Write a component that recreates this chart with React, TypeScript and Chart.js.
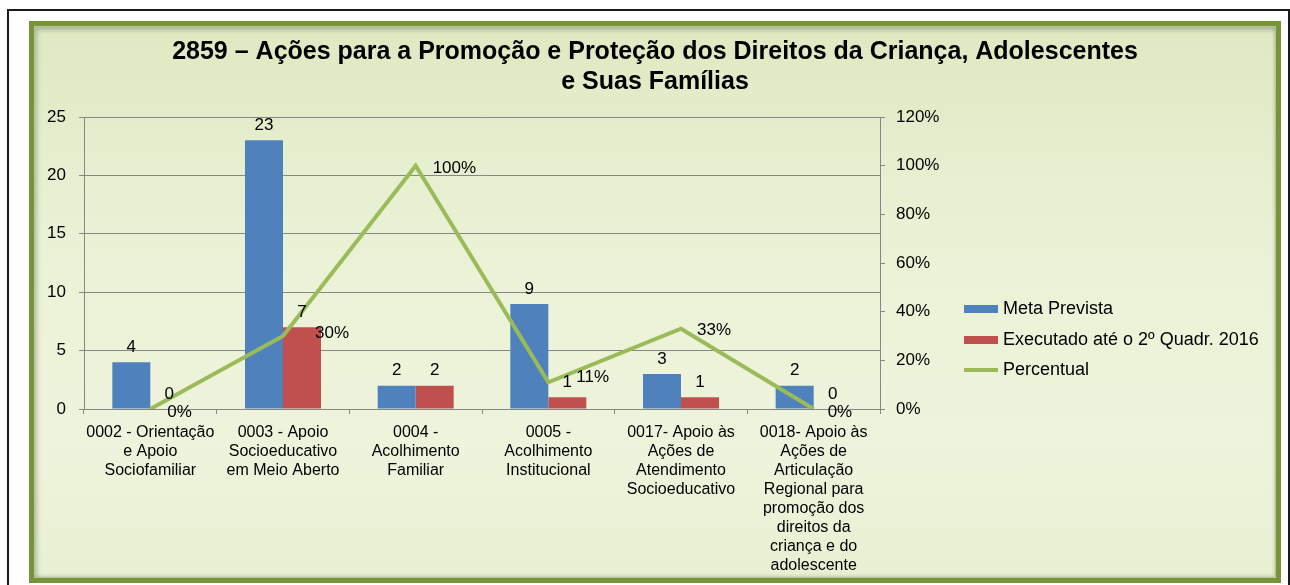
import React, { useEffect, useRef } from 'react';
import { Chart, registerables } from 'chart.js';

Chart.register(...registerables);

const FONT = '"Liberation Sans", Arial, Helvetica, sans-serif';

const titleLines = [
  '2859 – Ações para a Promoção e Proteção dos Direitos da Criança, Adolescentes',
  'e Suas Famílias',
];

const categories: string[][] = [
  ['0002 - Orientação', 'e Apoio', 'Sociofamiliar'],
  ['0003 - Apoio', 'Socioeducativo', 'em Meio Aberto'],
  ['0004 -', 'Acolhimento', 'Familiar'],
  ['0005 -', 'Acolhimento', 'Institucional'],
  ['0017- Apoio às', 'Ações de', 'Atendimento', 'Socioeducativo'],
  ['0018- Apoio às', 'Ações de', 'Articulação', 'Regional para', 'promoção dos', 'direitos da', 'criança e do', 'adolescente'],
];

const seriesNames = ['Meta Prevista', 'Executado até o 2º Quadr. 2016', 'Percentual'];
const metaPrevista = [4, 23, 2, 9, 3, 2];
const executado = [0, 7, 2, 1, 1, 0];
const percentual = [0, 30, 100, 11, 33, 0];

const leftAxis = { min: 0, max: 25, step: 5 };
const rightAxis = { min: 0, max: 120, step: 20 };

const COLORS = ['#4F81BD', '#C0504D', '#9BBB59'];

// label style offsets (relative to library-computed element positions)
const pctLabelDx = [17, 32, 17, 28, 16, 14];
const pctLabelDy = [3, -3, 3, -5, 2, 3];

const dataLabelsPlugin = {
  id: 'dataLabels',
  afterDatasetsDraw(chart: any) {
    const ctx = chart.ctx;
    ctx.save();
    ctx.font = `17px ${FONT}`;
    ctx.fillStyle = '#000';
    ctx.textBaseline = 'middle';
    [0, 1].forEach((di) => {
      const meta = chart.getDatasetMeta(di);
      meta.data.forEach((el: any, i: number) => {
        ctx.textAlign = 'center';
        ctx.fillText(String(chart.data.datasets[di].data[i]), el.x, el.y - 15);
      });
    });
    const lm = chart.getDatasetMeta(2);
    lm.data.forEach((el: any, i: number) => {
      ctx.textAlign = 'left';
      ctx.fillText(chart.data.datasets[2].data[i] + '%', el.x + pctLabelDx[i], el.y + pctLabelDy[i]);
    });
    ctx.restore();
  },
};

const customLegendPlugin = {
  id: 'customLegend',
  afterDraw(chart: any) {
    const ctx = chart.ctx;
    const x0 = 964;
    const boxW = 34;
    const rowY = [309, 340, 370];
    ctx.save();
    ctx.font = `18px ${FONT}`;
    ctx.textBaseline = 'middle';
    ctx.textAlign = 'left';
    chart.data.datasets.forEach((ds: any, i: number) => {
      const y = rowY[i];
      if (ds.type === 'line') {
        ctx.strokeStyle = ds.borderColor;
        ctx.lineWidth = 4;
        ctx.beginPath();
        ctx.moveTo(x0, y);
        ctx.lineTo(x0 + boxW, y);
        ctx.stroke();
      } else {
        ctx.fillStyle = ds.backgroundColor;
        ctx.fillRect(x0, y - 4, boxW, 8);
      }
      ctx.fillStyle = '#000';
      ctx.fillText(ds.label, x0 + boxW + 5, y);
    });
    ctx.restore();
  },
};

export default function App() {
  const canvasRef = useRef<HTMLCanvasElement | null>(null);

  useEffect(() => {
    document.body.style.margin = '0';
    const canvas = canvasRef.current;
    if (!canvas) return;
    const gridColor = '#868686';
    const chart = new Chart(canvas, {
      type: 'bar',
      data: {
        labels: categories,
        datasets: [
          {
            type: 'bar',
            label: seriesNames[0],
            data: metaPrevista,
            backgroundColor: COLORS[0],
            borderWidth: 0,
            categoryPercentage: 0.573,
            barPercentage: 1,
            yAxisID: 'y',
            order: 2,
          },
          {
            type: 'bar',
            label: seriesNames[1],
            data: executado,
            backgroundColor: COLORS[1],
            borderWidth: 0,
            categoryPercentage: 0.573,
            barPercentage: 1,
            yAxisID: 'y',
            order: 2,
          },
          {
            type: 'line',
            label: seriesNames[2],
            data: percentual,
            borderColor: COLORS[2],
            backgroundColor: COLORS[2],
            borderWidth: 4,
            pointRadius: 0,
            tension: 0,
            fill: false,
            yAxisID: 'y1',
            order: 0,
          },
        ] as any,
      },
      options: {
        responsive: false,
        animation: false,
        devicePixelRatio: 1,
        events: [],
        layout: { padding: { left: 40, right: 20, top: 0, bottom: 0 }, autoPadding: false } as any,
        plugins: {
          legend: { display: false },
          tooltip: { enabled: false },
          title: {
            display: true,
            text: titleLines,
            color: '#000',
            font: { family: FONT, size: 25, weight: 'bold', lineHeight: 1.2 },
            padding: { top: 37, bottom: 20 },
          },
        },
        scales: {
          x: {
            offset: true,
            grid: {
              display: true,
              drawOnChartArea: false,
              drawTicks: true,
              tickLength: 5,
              color: gridColor,
              offset: true,
            },
            border: { display: true, color: gridColor, width: 1 },
            ticks: {
              autoSkip: false,
              maxRotation: 0,
              minRotation: 0,
              color: '#000',
              padding: 9,
              font: { family: FONT, size: 16, lineHeight: 19 / 16 },
            },
            afterFit: (s: any) => {
              s.height = 176;
            },
          },
          y: {
            position: 'left',
            min: leftAxis.min,
            max: leftAxis.max,
            ticks: {
              stepSize: leftAxis.step,
              color: '#000',
              padding: 13,
              font: { family: FONT, size: 17 },
            },
            grid: { color: gridColor, tickLength: 5, drawTicks: true },
            border: { display: true, color: gridColor },
            afterFit: (s: any) => {
              s.width = 44;
            },
          },
          y1: {
            position: 'right',
            min: rightAxis.min,
            max: rightAxis.max,
            ticks: {
              stepSize: rightAxis.step,
              color: '#000',
              padding: 11,
              font: { family: FONT, size: 17 },
              callback: (v: any) => v + '%',
            },
            grid: { drawOnChartArea: false, color: gridColor, tickLength: 5, drawTicks: true },
            border: { display: true, color: gridColor },
            afterFit: (s: any) => {
              s.width = 390;
            },
          },
        },
      } as any,
      plugins: [dataLabelsPlugin, customLegendPlugin],
    });
    return () => chart.destroy();
  }, []);

  return (
    <div style={{ position: 'relative', width: 1290, height: 585, overflow: 'hidden', background: '#fff' }}>
      <div
        style={{
          position: 'absolute',
          left: 7,
          top: 9,
          width: 1283,
          height: 600,
          border: '2px solid #1a1a1a',
          boxSizing: 'border-box',
        }}
      />
      <div
        style={{
          position: 'absolute',
          left: 29,
          top: 21,
          width: 1252,
          height: 562,
          border: '5px solid #77933C',
          boxSizing: 'border-box',
          background: 'linear-gradient(180deg, #DEE9C2 0%, #EAF2D6 40%, #EEF4DC 75%, #E8F0D2 100%)',
          boxShadow: 'inset 0 0 0 1px #B5CA87, inset 3px 4px 4px rgba(80,80,80,0.35), inset -2px -2px 3px rgba(80,80,80,0.25)',
        }}
      />
      <canvas
        ref={canvasRef}
        width={1290}
        height={585}
        style={{ position: 'absolute', left: 0, top: 0, width: 1290, height: 585 }}
      />
    </div>
  );
}
